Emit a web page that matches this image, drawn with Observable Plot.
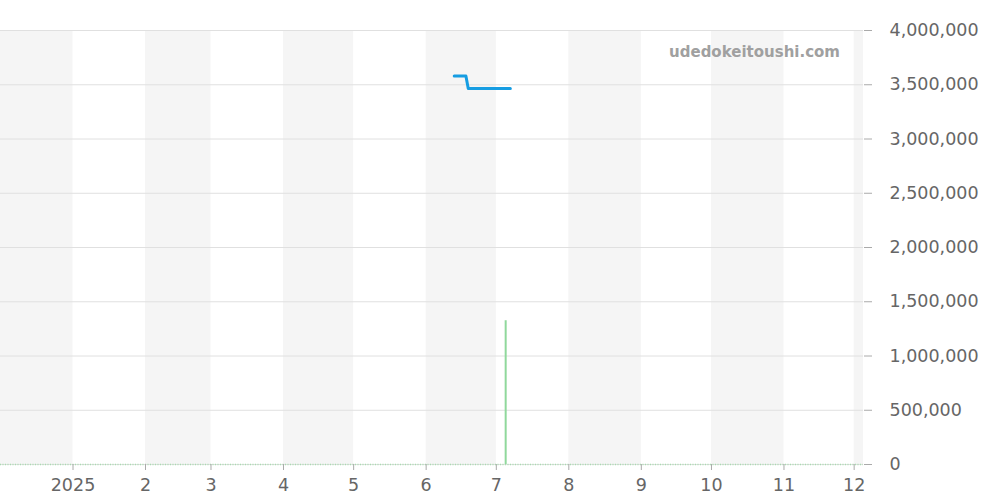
<!DOCTYPE html>
<html><head><meta charset="utf-8">
<script src="https://cdn.jsdelivr.net/npm/d3@7"></script>
<script src="https://cdn.jsdelivr.net/npm/@observablehq/plot@0.6"></script>
<style>
body{margin:0;background:#fff;font-family:"DejaVu Sans",sans-serif;}
#wrap{position:relative;width:1000px;height:500px;}
#wm{position:absolute;right:160px;top:43px;font:bold 15px "DejaVu Sans",sans-serif;color:#a0a0a0;}
</style></head><body>
<div id="wrap"><div id="chart"></div><div id="wm">udedokeitoushi.com</div></div>
<script>
const bandStarts = ["2024-12-01","2025-02-01","2025-04-01","2025-06-01","2025-08-01","2025-10-01","2025-12-01"];
const bandEnds   = ["2025-01-01","2025-03-01","2025-05-01","2025-07-01","2025-09-01","2025-11-01","2025-12-05"];
const priceDates = ["2025-06-13","2025-06-18","2025-06-19","2025-07-07"];
const priceValues = [3580000, 3580000, 3465000, 3465000];
const volDates = ["2025-07-05"];
const volValues = [1325000];
const yTicks = [0,500000,1000000,1500000,2000000,2500000,3000000,3500000,4000000];

const P = s => new Date(s + "T00:00:00");
const bands = bandStarts.map((s,i)=>({x1:P(s), x2:P(bandEnds[i])}));
const price = priceDates.map((d,i)=>({date:P(d), value:priceValues[i]}));
const vol = volDates.map((d,i)=>({date:P(d), value:volValues[i]}));
const xTicks = d3.timeMonth.range(P("2025-01-01"), P("2025-12-02"));
const fmtX = d=> d.getMonth()===0 ? String(d.getFullYear()) : String(d.getMonth()+1);

const chart = Plot.plot({
  width:1000, height:500,
  marginLeft:0, marginRight:137, marginTop:30, marginBottom:36,
  style:{fontFamily:"DejaVu Sans, sans-serif", fontSize:"17.5px", color:"#666", background:"#fff"},
  x:{type:"utc", domain:[P("2024-12-01"), P("2025-12-05")], label:null},
  y:{domain:[0,4000000], label:null},
  marks:[
    Plot.rectX(bands,{x1:"x1",x2:"x2",y1:0,y2:4000000,fill:"#f5f5f5"}),
    Plot.gridY(yTicks,{stroke:"#e0e0e0",strokeOpacity:1}),
    Plot.ruleY([0],{stroke:"#a8dcb0",strokeDasharray:"1,1.5",strokeWidth:1.5}),
    Plot.ruleX(vol,{x:"date",y1:0,y2:"value",stroke:"#90d89c",strokeWidth:2}),
    Plot.line(price,{x:"date",y:"value",stroke:"#169de2",strokeWidth:3}),
    Plot.axisY({anchor:"right",ticks:yTicks,tickSize:8,tickPadding:18,tickFormat:d3.format(","),stroke:"#aaa",label:null}),
    Plot.axisX({ticks:xTicks,tickSize:6,tickPadding:8,stroke:"#aaa",label:null,tickFormat:fmtX})
  ]
});
chart.querySelectorAll("text").forEach(t=>t.setAttribute("fill","#666"));
document.getElementById("chart").appendChild(chart);
</script></body></html>
